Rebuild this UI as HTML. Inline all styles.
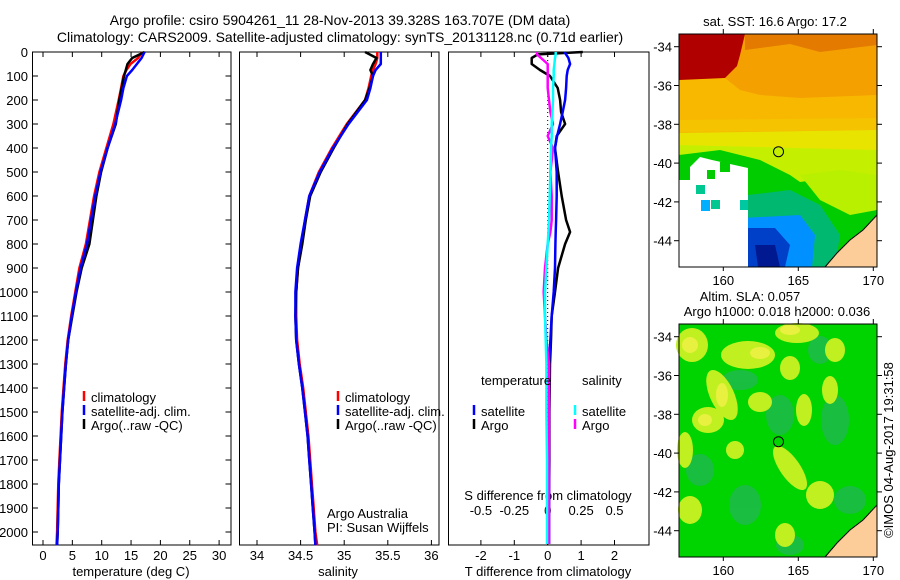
<!DOCTYPE html>
<html><head><meta charset="utf-8"><style>
html,body{margin:0;padding:0;background:#fff;}
svg{display:block;font-family:"Liberation Sans",sans-serif;}
</style></head><body>
<svg id="fig" width="900" height="580" viewBox="0 0 900 580" xmlns="http://www.w3.org/2000/svg">
<g font-size="14" text-anchor="middle">
<text x="340" y="25">Argo profile: csiro 5904261_11 28-Nov-2013 39.328S 163.707E (DM data)</text>
<text x="340" y="42">Climatology: CARS2009. Satellite-adjusted climatology: synTS_20131128.nc (0.71d earlier)</text>
</g>
<g id="p1"></g>
<g id="p2"></g>
<g id="p3"></g>

<!-- SST map -->
<g>
<text x="775" y="26" font-size="13" text-anchor="middle">sat. SST: 16.6 Argo: 17.2</text>
<rect x="679" y="34" width="198" height="233" fill="#f4a000"/>
<polygon points="679,34 745,34 740,55 737,66 725,78 705,82 679,80" fill="#b00000"/>
<polygon points="745,34 877,34 877,45 820,52 790,44 760,48 745,50" fill="#e07000" opacity="0.8"/>
<polygon points="679,80 725,78 740,90 760,95 800,98 877,95 877,130 679,132" fill="#f8b800"/>
<polygon points="679,120 877,118 877,140 679,138" fill="#f4c800" opacity="0.7"/>
<polygon points="679,133 877,130 877,160 679,160" fill="#e8e400"/>
<polygon points="679,145 877,150 877,215 679,190" fill="#c4f000"/>
<polygon points="679,155 720,150 760,160 790,175 800,182 830,178 877,190 877,267 679,267" fill="#00cc00"/>
<polygon points="800,175 840,170 877,175 877,210 850,215 820,200" fill="#b8f000"/>
<polygon points="748,195 790,190 820,205 840,235 835,267 748,267" fill="#00b870"/>
<polygon points="742,218 800,215 815,235 812,267 742,267" fill="#0090ff"/>
<polygon points="745,228 775,228 790,245 785,267 748,267" fill="#0040c8"/>
<polygon points="755,245 775,245 780,267 758,267" fill="#001890"/>
<polygon points="690,167 700,157 712,160 748,168 748,267 679,267 679,180 690,180" fill="#ffffff"/>
<rect x="696" y="185" width="9" height="9" fill="#00c890"/>
<rect x="707" y="170" width="8" height="9" fill="#00cc00"/>
<rect x="711" y="200" width="9" height="9" fill="#00c890"/>
<rect x="701" y="200" width="9" height="11" fill="#00b0ff"/>
<rect x="740" y="200" width="8" height="10" fill="#00c8a0"/>
<rect x="720" y="162" width="10" height="10" fill="#00cc00"/>
<polygon points="825,267 837,253 850,240 863,230 877,215 877,267" fill="#fccc99" stroke="#000" stroke-width="1"/>
<circle cx="778.5" cy="151.7" r="5" fill="none" stroke="#000" stroke-width="1"/>
<rect x="679" y="34" width="198" height="233" fill="none" stroke="#000" stroke-width="1"/>
</g>
<!-- SLA map -->
<g>
<text x="750" y="301" font-size="13" text-anchor="middle">Altim. SLA: 0.057</text>
<text x="777" y="316" font-size="13" text-anchor="middle">Argo h1000: 0.018 h2000: 0.036</text>
<rect x="679" y="324" width="198" height="233" fill="#00d400"/>
<g fill="#20b850" opacity="0.8">
<ellipse cx="740" cy="380" rx="18" ry="10"/><ellipse cx="780" cy="415" rx="14" ry="20"/>
<ellipse cx="745" cy="505" rx="16" ry="20"/><ellipse cx="835" cy="420" rx="14" ry="25"/>
<ellipse cx="850" cy="500" rx="16" ry="14"/><ellipse cx="820" cy="350" rx="12" ry="14"/>
<ellipse cx="700" cy="470" rx="14" ry="16"/><ellipse cx="790" cy="545" rx="14" ry="10"/>
</g>
<g fill="#c0f020">
<ellipse cx="692" cy="345" rx="16" ry="17"/><ellipse cx="748" cy="355" rx="27" ry="14"/>
<ellipse cx="722" cy="395" rx="12" ry="27" transform="rotate(-25 722 395)"/>
<ellipse cx="708" cy="420" rx="16" ry="13"/><ellipse cx="760" cy="402" rx="12" ry="10"/>
<ellipse cx="797" cy="333" rx="22" ry="10"/><ellipse cx="790" cy="368" rx="10" ry="12"/>
<ellipse cx="790" cy="468" rx="10" ry="26" transform="rotate(-35 790 468)"/>
<ellipse cx="804" cy="410" rx="8" ry="16"/><ellipse cx="835" cy="350" rx="10" ry="12"/>
<ellipse cx="830" cy="390" rx="8" ry="14"/><ellipse cx="820" cy="495" rx="14" ry="14"/>
<ellipse cx="690" cy="510" rx="12" ry="14"/><ellipse cx="785" cy="535" rx="10" ry="12"/>
<ellipse cx="735" cy="450" rx="9" ry="9"/><ellipse cx="685" cy="450" rx="8" ry="18"/>
</g>
<g fill="#e8f040">
<ellipse cx="690" cy="345" rx="8" ry="8"/><ellipse cx="722" cy="395" rx="6" ry="12"/><ellipse cx="705" cy="420" rx="7" ry="6"/><ellipse cx="790" cy="330" rx="10" ry="5"/><ellipse cx="760" cy="353" rx="10" ry="6"/>
</g>
<polygon points="825,557 837,543 850,530 863,520 877,505 877,557" fill="#fccc99" stroke="#000" stroke-width="1"/>
<circle cx="778.5" cy="441.7" r="5" fill="none" stroke="#000" stroke-width="1"/>
<rect x="679" y="324" width="198" height="233" fill="none" stroke="#000" stroke-width="1"/>
</g>
<text transform="translate(893,450) rotate(-90)" font-size="13" text-anchor="middle">©IMOS 04-Aug-2017 19:31:58</text>
<g id="maxes" font-size="13"></g>
</svg>
<script>
const depths = [0,25,50,75,100,150,200,300,400,500,600,700,800,900,1000,1100,1200,1300,1400,1500,1600,1700,1800,1900,2000,2055];
const tempClim = [16.9,16.2,14.9,14.2,13.7,13.3,12.9,12.0,10.8,9.6,8.7,8.0,7.3,6.2,5.5,4.8,4.2,3.8,3.5,3.2,3.0,2.8,2.6,2.5,2.4,2.3];
const tempSat = [17.3,16.8,16.0,15.2,14.3,13.7,13.3,12.3,11.0,9.8,8.9,8.2,7.5,6.4,5.6,4.9,4.3,3.9,3.6,3.3,3.1,2.9,2.7,2.6,2.5,2.4];
const tempArgo = [17.3,15.2,14.4,14.1,13.8,13.4,13.0,12.4,11.0,9.9,9.1,8.5,7.9,6.6,5.7,5.0,4.3,3.9,3.6,3.3,3.1,2.9,2.7,2.6,2.5,2.4];
const salClim = [35.38,35.38,35.36,35.33,35.31,35.28,35.24,35.03,34.86,34.71,34.6,34.55,34.51,34.47,34.45,34.45,34.46,34.49,34.53,34.56,34.59,34.61,34.63,34.65,34.67,34.69];
const salSat = [35.42,35.42,35.42,35.36,35.33,35.30,35.26,35.05,34.87,34.72,34.6,34.55,34.50,34.46,34.44,34.44,34.45,34.48,34.52,34.55,34.58,34.60,34.62,34.64,34.66,34.67];
const salArgo = [35.24,35.37,35.33,35.30,35.33,35.29,35.24,35.04,34.88,34.73,34.61,34.56,34.52,34.47,34.45,34.44,34.45,34.48,34.52,34.55,34.58,34.60,34.62,34.64,34.66,34.67];
const diffDepths = [0,10,25,50,75,100,150,200,250,300,350,400,500,600,700,750,800,900,1000,1100,1200,1300,1500,1700,1900,2050];
const tDiffSat = [0.5,0.55,0.62,0.67,0.6,0.57,0.55,0.52,0.45,0.37,0.28,0.22,0.27,0.27,0.25,0.24,0.23,0.22,0.18,0.12,0.08,0.04,0.04,0.04,0.04,0.04];
const tDiffArgo = [1.05,-0.3,-0.48,-0.48,-0.23,0.07,0.3,0.37,0.4,0.52,0.27,0.22,0.31,0.42,0.55,0.67,0.52,0.31,0.22,0.12,0.1,0.07,0.05,0.05,0.04,0.04];
const sDiffSat = [0.06,0.06,0.055,0.05,0.045,0.045,0.04,0.04,0.035,0.03,0.03,0.025,0.02,0.015,0.01,0.005,0,-0.01,-0.02,-0.02,-0.015,-0.01,-0.01,-0.005,-0.005,-0.005];
const sDiffArgo = [-0.08,-0.08,-0.05,0,0,0,0,0.01,0.02,0.04,0.0,0.04,0.02,0.03,0.03,0.02,0.0,-0.02,-0.03,-0.02,-0.01,0.01,0.01,0.01,0.01,0.01];
const depthTicks = [0,100,200,300,400,500,600,700,800,900,1000,1100,1200,1300,1400,1500,1600,1700,1800,1900,2000];
const tempTicks = [0,5,10,15,20,25,30];
const salTicks = [34,34.5,35,35.5,36];
const tDiffTicks = [-2,-1,0,1,2];
const sDiffTicks = [-0.5,-0.25,0,0.25,0.5];
const latTicks = [-34,-36,-38,-40,-42,-44];
const lonTicks = [160,165,170];

const NS="http://www.w3.org/2000/svg";
const TOP=52, BOT=545;
const yD = d => TOP + d*0.24;
function mk(parent, tag, attrs){const e=document.createElementNS(NS,tag);for(const k in attrs)e.setAttribute(k,attrs[k]);parent.appendChild(e);return e;}
function txt(parent,x,y,s,anchor,size){const t=mk(parent,'text',{x:x,y:y,'font-size':size||13,'text-anchor':anchor||'middle'});t.textContent=s;return t;}
function profLine(parent, vals, ds, color, xf){
  const pts=vals.map((v,i)=>xf(v).toFixed(1)+','+yD(ds[i]).toFixed(1));
  return mk(parent,'polyline',{points:pts.join(' '),fill:'none',stroke:color,'stroke-width':2.5,'stroke-linejoin':'round'});
}
// Panel 1
const p1=document.getElementById('p1');
const xT = v => 43 + v*5.87;
mk(p1,'rect',{x:32.5,y:TOP,width:198.5,height:BOT-TOP,fill:'none',stroke:'#000'});
depthTicks.forEach(d=>{
  const y=yD(d);
  mk(p1,'line',{x1:32.5,x2:38,y1:y,y2:y,stroke:'#000'});
  mk(p1,'line',{x1:231,x2:225.5,y1:y,y2:y,stroke:'#000'});
  const t=txt(p1,28,y+5,String(d),'end');
  
  
});
tempTicks.forEach(v=>{
  const x=xT(v);
  mk(p1,'line',{x1:x,x2:x,y1:TOP,y2:TOP+5,stroke:'#000'});
  mk(p1,'line',{x1:x,x2:x,y1:BOT,y2:BOT-5,stroke:'#000'});
  const t=txt(p1,x,560,String(v));
  
  
});
const xl1=txt(p1,131,576,'temperature (deg C)');


let l;
l=profLine(p1,tempClim,depths,'#ff0000',xT);


l=profLine(p1,tempArgo,depths,'#000000',xT);


l=profLine(p1,tempSat,depths,'#0000ff',xT);


function legend(parent,x,y0,items){
  items.forEach((it,i)=>{
    const y=y0+i*14;
    mk(parent,'line',{x1:x,x2:x,y1:y-11,y2:y-1,stroke:it[1],'stroke-width':2.5});
    const t=txt(parent,x+7,y,it[0],'start');
    
    
  });
}
legend(p1,84,402,[['climatology','#ff0000'],['satellite-adj. clim.','#0000ff'],['Argo(..raw -QC)','#000']]);
// Panel 2
const p2=document.getElementById('p2');
const xS = v => 257 + (v-34)*87.2;
mk(p2,'rect',{x:239.5,y:TOP,width:199.5,height:BOT-TOP,fill:'none',stroke:'#000'});
salTicks.forEach(v=>{
  const x=xS(v);
  mk(p2,'line',{x1:x,x2:x,y1:TOP,y2:TOP+5,stroke:'#000'});
  mk(p2,'line',{x1:x,x2:x,y1:BOT,y2:BOT-5,stroke:'#000'});
  const t=txt(p2,x,560,String(v));
  
  
});
const xl2=txt(p2,338,576,'salinity');


l=profLine(p2,salClim,depths,'#ff0000',xS);


l=profLine(p2,salArgo,depths,'#000000',xS);


l=profLine(p2,salSat,depths,'#0000ff',xS);


legend(p2,338,402,[['climatology','#ff0000'],['satellite-adj. clim.','#0000ff'],['Argo(..raw -QC)','#000']]);
let a=txt(p2,327,518,'Argo Australia','start');


a=txt(p2,327,532,'PI: Susan Wijffels','start');


// Panel 3
const p3=document.getElementById('p3');
const xTD = v => 547.7 + v*33.4;
const xSD = v => 547.7 + v*133.6;
mk(p3,'rect',{x:448.5,y:TOP,width:200.5,height:BOT-TOP,fill:'none',stroke:'#000'});
mk(p3,'line',{x1:547.7,x2:547.7,y1:TOP,y2:BOT,stroke:'#000','stroke-dasharray':'1,3'});
tDiffTicks.forEach(v=>{
  const x=xTD(v);
  mk(p3,'line',{x1:x,x2:x,y1:TOP,y2:TOP+5,stroke:'#000'});
  mk(p3,'line',{x1:x,x2:x,y1:BOT,y2:BOT-5,stroke:'#000'});
  const t=txt(p3,x,560,String(v));
  
  
});
sDiffTicks.forEach(v=>{
  const t=txt(p3,xSD(v),515,String(v));
  
  
});
a=txt(p3,548,500,'S difference from climatology');


a=txt(p3,548,576,'T difference from climatology');


l=profLine(p3,tDiffArgo,diffDepths,'#000000',xTD);


l=profLine(p3,tDiffSat,diffDepths,'#0000ff',xTD);


l=profLine(p3,sDiffArgo,diffDepths,'#ff00ff',xSD);


l=profLine(p3,sDiffSat,diffDepths,'#00ffff',xSD);


a=txt(p3,481,385,'temperature','start');


a=txt(p3,582,385,'salinity','start');


legend(p3,474,416,[['satellite','#0000ff'],['Argo','#000']]);
legend(p3,575,416,[['satellite','#00ffff'],['Argo','#ff00ff']]);
// Map axes
const mx=document.getElementById('maxes');
const xLon = v => 723.3 + (v-160)*15;
[[34,267],[324,557]].forEach(([top,bot],mi)=>{
  const yLat = v => top + 12.7 + (-34 - v)*19.4;
  latTicks.forEach(v=>{
    const y=yLat(v);
    mk(mx,'line',{x1:679,x2:674,y1:y,y2:y,stroke:'#000'});
    mk(mx,'line',{x1:877,x2:882,y1:y,y2:y,stroke:'#000'});
    const t=txt(mx,672,y+5,String(v),'end');
    
    
  });
  lonTicks.forEach(v=>{
    const x=xLon(v);
    mk(mx,'line',{x1:x,x2:x,y1:top,y2:top-5,stroke:'#000'});
    mk(mx,'line',{x1:x,x2:x,y1:bot,y2:bot+4,stroke:'#000'});
    const t=txt(mx,x,bot+18,String(v));
    
    
  });
});
</script>
</body></html>
